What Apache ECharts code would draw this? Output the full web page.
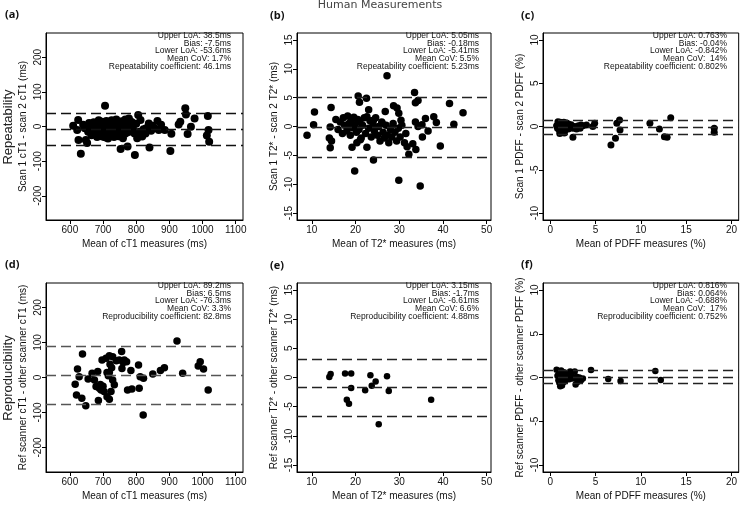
<!DOCTYPE html>
<html>
<head>
<meta charset="utf-8">
<script src="https://cdn.jsdelivr.net/npm/echarts@6/dist/echarts.min.js"></script>
<style>
html, body { margin: 0; padding: 0; background: #fff; }
#chart { width: 740px; height: 508px; }
</style>
</head>
<body>
<div id="chart"></div>
<script>
// points: [mean of the two measures, difference]
const repeatCT1 = [
    [610,2],[622,-10],[625,19],[626,-39],[633,-79],[640,5],[645,-5],[648,-39],[652,-48],[655,-15],[658,10],[660,5],
    [662,-2],[665,-25],[668,8],[670,-12],[672,12],[673,-18],[675,-5],[678,-20],[680,3],[682,-30],[683,-2],[685,10],
    [687,18],[688,-8],[690,-18],[692,5],[693,-12],[695,-28],[697,14],[698,2],[700,-5],[702,-22],[703,-30],[704,8],
    [706,60],[707,-12],[708,-2],[709,-32],[710,16],[711,10],[712,0],[714,-20],[715,-35],[716,-8],[718,10],[719,-15],
    [720,-28],[722,4],[723,-2],[724,-15],[726,18],[727,-20],[728,-5],[730,-25],[732,8],[733,-30],[734,-12],[736,2],
    [737,12],[738,-20],[740,20],[741,-2],[742,-8],[745,5],[747,-28],[748,-15],[750,12],[752,2],[753,-65],[755,0],
    [757,15],[758,-10],[760,-34],[762,6],[763,-15],[765,-22],[767,20],[768,-3],[770,10],[771,-18],[774,-58],[775,-8],
    [778,23],[779,-15],[780,0],[782,15],[783,-2],[785,-12],[787,12],[788,4],[790,-5],[792,8],[795,-20],[796,-82],
    [800,8],[803,-34],[806,33],[810,-15],[813,19],[818,-29],[822,-8],[828,-20],[830,-5],[838,9],[840,-61],[845,-12],
    [848,2],[855,-5],[864,16],[868,-10],[875,5],[886,-10],[903,-71],[906,-21],[928,6],[933,14],[948,53],[950,35],
    [955,-22],[965,-1],[976,23],[1013,-26],[1016,30],[1018,-10],[1020,-44]
];
const repeatT2 = [
    [8.9,-1.5],[10.4,0.3],[10.6,2.5],[14.0,-2.0],[14.2,-0.1],[14.2,-3.7],[14.4,3.3],[14.5,-2.5],[15.5,1.2],[16.0,-0.5],
    [16.5,0.8],[17.0,-1.2],[17.2,1.5],[17.5,0.2],[18.0,-0.8],[18.2,1.8],[18.5,0.5],[18.8,-1.5],[19.0,1.0],[19.2,-3.6],
    [19.3,-0.2],[19.6,1.6],[19.8,-7.7],[19.9,0.3],[20.2,-1.0],[20.3,-2.8],[20.5,1.2],[20.6,5.3],[20.8,-0.5],[20.9,4.2],
    [21.0,0.8],[21.1,-2.3],[21.3,-2.0],[21.6,0.2],[22.0,1.5],[22.3,-1.2],[22.5,4.9],[22.6,1.7],[22.6,-3.6],[23.0,2.9],
    [23.0,-0.3],[23.3,1.0],[23.6,-1.8],[24.0,0.3],[24.1,-5.8],[24.1,1.1],[24.3,-0.8],[24.6,1.5],[25.0,-1.5],[25.3,0.0],
    [25.6,-2.5],[26.0,0.8],[26.1,0.5],[26.3,-1.0],[26.6,-2.0],[26.8,2.6],[27.0,0.2],[27.2,8.8],[27.3,-1.5],[27.6,-2.8],
    [28.0,-0.5],[28.3,-1.8],[28.6,0.5],[28.7,3.6],[29.0,-1.0],[29.4,-2.5],[29.5,3.2],[29.8,-0.3],[29.9,2.3],[29.9,-9.3],
    [30.2,-1.8],[30.4,1.1],[30.6,0.2],[31.2,-2.8],[31.5,-1.2],[31.8,-3.5],[32.2,-4.8],[33.1,-3.0],[33.5,5.9],[33.7,4.1],
    [33.7,0.8],[33.8,-4.0],[34.3,4.5],[34.3,0.0],[34.8,-10.3],[35.2,0.3],[35.3,-1.8],[36.0,1.4],[36.6,-0.8],[37.9,1.7],
    [38.5,0.7],[39.4,-3.4],[41.5,4.0],[42.5,0.4],[44.6,2.4]
];
const repeatPDFF = [
    [0.7,0.1],[0.8,-0.2],[0.85,0.55],[0.9,0.4],[1.0,-0.4],[1.0,0.2],[1.05,-0.8],[1.1,0.5],[1.1,-0.1],[1.2,0.3],
    [1.2,-0.6],[1.3,0.0],[1.3,0.4],[1.4,-0.3],[1.4,0.2],[1.5,0.5],[1.5,-0.1],[1.55,-0.75],[1.6,0.3],[1.6,-0.5],
    [1.7,0.1],[1.8,-0.2],[1.8,0.4],[1.9,0.0],[2.0,0.3],[2.0,-0.3],[2.1,0.1],[2.2,-0.1],[2.3,0.2],[2.5,-1.25],
    [2.5,-0.2],[2.7,0.0],[2.9,-0.3],[3.06,0.0],[3.1,0.1],[3.3,-0.2],[3.4,0.17],[3.6,0.1],[4.0,0.17],[4.7,0.0],
    [4.9,0.37],[6.7,-2.14],[7.2,-1.37],[7.35,0.37],[7.65,0.75],[7.7,-0.4],[11.0,0.37],[12.05,-0.3],[12.6,-1.17],
    [12.9,-1.25],[13.3,1.0],[18.1,-0.2],[18.1,-0.67]
];
const reproCT1 = [
    [616,-19],[620,-50],[623,24],[628,2],[636,-59],[638,67],[648,-81],[655,-4],[667,12],[674,-7],[679,-26],[684,17],
    [686,-66],[689,-31],[692,-20],[694,-36],[697,50],[700,-25],[703,-40],[709,55],[712,14],[712,-55],[716,5],[719,62],
    [719,14],[719,-62],[721,38],[724,-40],[726,28],[729,59],[729,-7],[734,-21],[740,48],[749,50],[756,74],[757,26],
    [761,43],[764,50],[771,45],[774,-36],[784,20],[787,-33],[807,36],[809,-31],[812,2],[821,-107],[822,-2],[850,10],
    [873,20],[885,28],[923,104],[940,12],[987,33],[993,45],[1003,24],[1017,-36]
];
const reproT2 = [
    [14.0,0.1],[14.3,0.6],[17.6,0.7],[18.0,-3.8],[18.5,-4.5],[19.0,0.7],[19.0,-1.8],[22.2,-2.2],[23.4,0.4],[23.7,-1.4],
    [24.6,-0.7],[25.3,-8.0],[27.2,0.2],[27.6,-2.3],[37.3,-3.8]
];
const reproPDFF = [
    [0.7,0.9],[0.8,0.2],[0.9,-0.3],[1.0,0.5],[1.0,-0.6],[1.1,0.1],[1.1,-1.0],[1.2,0.8],[1.2,-0.2],[1.3,-0.9],
    [1.3,0.4],[1.4,0.0],[1.5,-0.5],[1.5,0.6],[1.6,0.2],[1.7,-0.3],[1.8,0.1],[2.0,0.5],[2.1,-0.2],[2.2,0.7],
    [2.3,0.3],[2.5,-0.1],[2.7,0.7],[2.8,-0.8],[2.9,0.1],[3.0,-0.5],[3.2,0.0],[3.4,-0.3],[3.6,-0.1],[4.5,0.86],
    [6.4,-0.17],[7.76,-0.4],[11.6,0.74],[12.2,-0.29]
];

// upper LoA, bias, lower LoA
const loaRepeatCT1 = [38.5, -7.5, -53.6];
const loaRepeatT2 = [5.05, -0.18, -5.41];
const loaRepeatPDFF = [0.763, -0.04, -0.842];
const loaReproCT1 = [89.2, 6.5, -76.3];
const loaReproT2 = [3.15, -1.7, -6.61];
const loaReproPDFF = [0.816, 0.064, -0.688];

const statsRepeatCT1 = ["Upper LoA: 38.5ms", "Bias: -7.5ms", "Lower LoA: -53.6ms", "Mean CoV: 1.7%", "Repeatability coefficient: 46.1ms"];
const statsRepeatT2 = ["Upper LoA: 5.05ms", "Bias: -0.18ms", "Lower LoA: -5.41ms", "Mean CoV: 5.5%", "Repeatability coefficient: 5.23ms"];
const statsRepeatPDFF = ["Upper LoA: 0.763%", "Bias: -0.04%", "Lower LoA: -0.842%", "Mean CoV:  14%", "Repeatability coefficient: 0.802%"];
const statsReproCT1 = ["Upper LoA: 89.2ms", "Bias: 6.5ms", "Lower LoA: -76.3ms", "Mean CoV: 3.3%", "Reproducibility coefficient: 82.8ms"];
const statsReproT2 = ["Upper LoA: 3.15ms", "Bias: -1.7ms", "Lower LoA: -6.61ms", "Mean CoV: 6.6%", "Reproducibility coefficient: 4.88ms"];
const statsReproPDFF = ["Upper LoA: 0.816%", "Bias: 0.064%", "Lower LoA: -0.688%", "Mean CoV:  17%", "Reproducibility coefficient: 0.752%"];

const ticksCT1 = [600, 700, 800, 900, 1000, 1100];
const ticksT2 = [10, 20, 30, 40, 50];
const ticksPDFF = [0, 5, 10, 15, 20];
const diffTicksCT1 = [-200, -100, 0, 100, 200];
const diffTicksT2 = [-15, -10, -5, 0, 5, 10, 15];
const diffTicksPDFF = [-10, -5, 0, 5, 10];

const xNames = ["Mean of cT1 measures (ms)", "Mean of T2* measures (ms)", "Mean of PDFF measures (%)"];
const yNames = [
    "Scan 1 cT1 - scan 2 cT1 (ms)", "Scan 1 T2* - scan 2 T2* (ms)", "Scan 1 PDFF - scan 2 PDFF (%)",
    "Ref scanner cT1 - other scanner cT1 (ms)", "Ref scanner T2* - other scanner T2* (ms)", "Ref scanner PDFF - other scanner PDFF (%)"
];
const panelLetters = ["(a)", "(b)", "(c)", "(d)", "(e)", "(f)"];
const rowNames = ["Repeatability", "Reproducibility"];
const chartTitle = "Human Measurements";

const narrow = '"Liberation Sans Narrow", "Liberation Sans", Arial, sans-serif';
const plain = '"Liberation Sans", Arial, sans-serif';

const panelData = [repeatCT1, repeatT2, repeatPDFF, reproCT1, reproT2, reproPDFF];
const panelLoa = [loaRepeatCT1, loaRepeatT2, loaRepeatPDFF, loaReproCT1, loaReproT2, loaReproPDFF];
const panelStats = [statsRepeatCT1, statsRepeatT2, statsRepeatPDFF, statsReproCT1, statsReproT2, statsReproPDFF];
const xTicks = [ticksCT1, ticksT2, ticksPDFF];
const yTicks = [diffTicksCT1, diffTicksT2, diffTicksPDFF];
const xRanges = [[528, 1122], [6.6, 51], [-0.8, 20.8]];
const yRanges = [[-270, 270], [-16.2, 16.2], [-10.8, 10.8]];

const boxes = [
    { left: 46, top: 33, width: 197, height: 187 },
    { left: 297, top: 33, width: 194, height: 187 },
    { left: 543, top: 33, width: 196, height: 187 },
    { left: 46, top: 283, width: 197, height: 189 },
    { left: 297, top: 283, width: 194, height: 189 },
    { left: 543, top: 283, width: 196, height: 189 }
];
const dotSizes = [8, 7.5, 7, 7.5, 6.5, 6.5];
const lineColors = ["#111", "#222", "#222", "#555", "#222", "#222"];
const letterPos = [[5, 9], [270, 10], [521, 10], [5, 259], [270, 260], [521, 259]];

const grids = [];
const xAxes = [];
const yAxes = [];
const series = [];
const graphics = [];

function plainNumber(value) {
    return String(value);
}

boxes.forEach(function (box, i) {
    const col = i % 3;
    grids.push(Object.assign({
        show: true,
        borderColor: "#000",
        borderWidth: 1,
        backgroundColor: "transparent"
    }, box));

    xAxes.push({
        gridIndex: i,
        type: "value",
        min: xRanges[col][0],
        max: xRanges[col][1],
        name: xNames[col],
        nameLocation: "middle",
        nameGap: 19,
        nameTextStyle: { fontFamily: narrow, fontSize: 10, color: "#111" },
        axisLine: { show: true, onZero: false, lineStyle: { color: "#000", width: 1 } },
        axisTick: { show: true, length: 4, customValues: xTicks[col], lineStyle: { color: "#000" } },
        axisLabel: { customValues: xTicks[col], formatter: plainNumber, fontFamily: narrow, fontSize: 10, color: "#111", margin: 5 },
        splitLine: { show: false }
    });

    yAxes.push({
        gridIndex: i,
        type: "value",
        min: yRanges[col][0],
        max: yRanges[col][1],
        name: yNames[i],
        nameLocation: "middle",
        nameRotate: 90,
        nameGap: 18,
        nameTextStyle: { fontFamily: narrow, fontSize: 10, color: "#111" },
        axisLine: { show: true, onZero: false, lineStyle: { color: "#000", width: 1 } },
        axisTick: { show: true, length: 4, customValues: yTicks[col], lineStyle: { color: "#000" } },
        axisLabel: { customValues: yTicks[col], formatter: plainNumber, rotate: 90, fontFamily: narrow, fontSize: 10, color: "#111", margin: 3 },
        splitLine: { show: false }
    });

    series.push({
        type: "scatter",
        xAxisIndex: i,
        yAxisIndex: i,
        data: panelData[i],
        symbolSize: dotSizes[i],
        itemStyle: { color: "#000", opacity: 1 },
        silent: true,
        markLine: {
            silent: true,
            symbol: "none",
            label: { show: false },
            lineStyle: { type: [10, 5], color: lineColors[i], width: 1.4 },
            data: panelLoa[i].map(function (v) { return { yAxis: v }; })
        }
    });

    graphics.push({
        type: "text",
        x: box.left + box.width - 12,
        y: box.top - 1,
        style: {
            text: panelStats[i].join("\n"),
            fontFamily: plain,
            fontSize: 8.5,
            lineHeight: 7.6,
            fill: "#111",
            align: "right",
            verticalAlign: "top"
        }
    });

    graphics.push({
        type: "text",
        x: letterPos[i][0],
        y: letterPos[i][1],
        style: {
            text: panelLetters[i],
            fontFamily: '"Open Sans", "DejaVu Sans", sans-serif',
            fontWeight: "bold",
            fontSize: 11,
            fill: "#111"
        }
    });
});

rowNames.forEach(function (name, r) {
    graphics.push({
        type: "text",
        x: 8,
        y: r === 0 ? 127 : 378,
        rotation: Math.PI / 2,
        style: {
            text: name,
            fontFamily: plain,
            fontSize: 13,
            fill: "#222",
            align: "center",
            verticalAlign: "middle"
        }
    });
});

graphics.push({
    type: "text",
    x: 380,
    y: 0,
    style: {
        text: chartTitle,
        fontFamily: '"DejaVu Sans", sans-serif',
        fontSize: 11,
        fill: "#444",
        align: "center",
        verticalAlign: "top"
    }
});

const chart = echarts.init(document.getElementById("chart"), null, { renderer: "canvas" });
chart.setOption({
    animation: false,
    backgroundColor: "#fff",
    grid: grids,
    xAxis: xAxes,
    yAxis: yAxes,
    series: series,
    graphic: graphics
});
</script>
</body>
</html>
